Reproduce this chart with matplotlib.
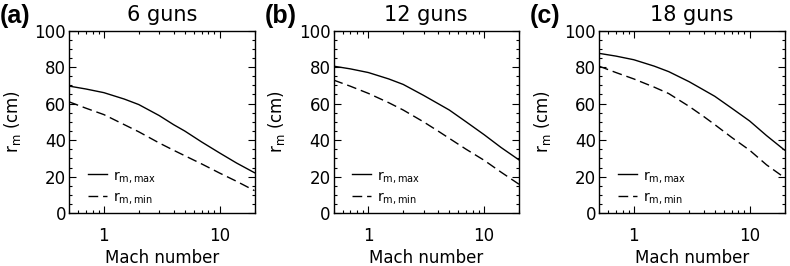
import matplotlib
matplotlib.use("Agg")
import matplotlib.pyplot as plt
from matplotlib.ticker import FixedLocator, MultipleLocator, NullFormatter, FixedFormatter

# ===========================
# DATA
# ===========================
mach = [0.5, 0.7, 1, 1.5, 2, 3, 4, 5, 7, 10, 14, 20]

panel_tags = ["(a)", "(b)", "(c)"]
panel_titles = ["6 guns", "12 guns", "18 guns"]

r_max_6 = [69.6, 68.0, 66.0, 62.5, 59.5, 53.5, 48.5, 45.0, 39.0, 33.0, 27.5, 22.2]
r_min_6 = [61.0, 57.5, 54.0, 48.5, 44.6, 38.5, 34.5, 31.5, 27.0, 22.0, 17.5, 12.4]

r_max_12 = [80.5, 79.0, 77.0, 73.5, 70.5, 64.5, 60.0, 56.5, 50.0, 43.0, 36.0, 29.2]
r_min_12 = [72.9, 69.5, 65.6, 60.5, 56.5, 50.0, 45.0, 41.0, 35.0, 29.0, 22.5, 15.9]

r_max_18 = [87.5, 86.0, 84.0, 80.5, 77.5, 72.0, 67.5, 64.0, 57.5, 50.5, 42.5, 34.6]
r_min_18 = [80.5, 77.0, 73.5, 69.0, 65.5, 58.5, 53.0, 48.5, 41.5, 34.5, 26.5, 19.5]

r_max = [r_max_6, r_max_12, r_max_18]
r_min = [r_min_6, r_min_12, r_min_18]

x_ticks = [1, 10]
x_ticklabels = ["1", "10"]
y_ticks = [0, 20, 40, 60, 80, 100]

# ===========================
# LAYOUT
# ===========================
W, H = 790, 266
AX_LEFT = [69, 333.5, 599]   # px
AX_W, AX_H = 185.5, 182.8
AX_BOTTOM = 213.3            # px from top

plt.rcParams["font.family"] = ["DejaVu Sans"]
plt.rcParams["mathtext.fontset"] = "dejavusans"

fig = plt.figure(figsize=(W / 100, H / 100), dpi=100)

for i in range(3):
    ax = fig.add_axes([AX_LEFT[i] / W, (H - AX_BOTTOM) / H, AX_W / W, AX_H / H])
    ax.plot(mach, r_max[i], color="black", lw=1.0, label=r"r$_{\rm m,max}$")
    ax.plot(mach, r_min[i], color="black", lw=1.0, dashes=(7, 3.5), label=r"r$_{\rm m,min}$")

    ax.set_xscale("log")
    ax.set_xlim(0.5, 20)
    ax.set_ylim(0, 100)

    ax.xaxis.set_major_locator(FixedLocator(x_ticks))
    ax.xaxis.set_major_formatter(FixedFormatter(x_ticklabels))
    ax.xaxis.set_minor_formatter(NullFormatter())
    ax.yaxis.set_major_locator(FixedLocator(y_ticks))
    ax.yaxis.set_minor_locator(MultipleLocator(5))

    ax.tick_params(which="both", direction="in", top=True, right=True, width=0.8)
    ax.tick_params(which="major", length=5, labelsize=12)
    ax.tick_params(which="minor", length=2.5)
    ax.tick_params(axis="x", which="major", pad=10)
    ax.tick_params(axis="y", which="major", pad=2)
    for sp in ax.spines.values():
        sp.set_linewidth(1.0)

    ax.set_xlabel("Mach number", fontsize=12, labelpad=3)
    ax.set_ylabel(r"r$_{\rm m}$ (cm)", fontsize=12)
    ax.yaxis.set_label_coords(-0.25, 0.5)
    ax.set_title(panel_titles[i], fontsize=15, pad=7)

    ax.legend(loc="lower left", bbox_to_anchor=(0.1, 0.04), frameon=False,
              fontsize=10, handlelength=1.4, handletextpad=0.4,
              labelspacing=0.35, borderaxespad=0, borderpad=0)

    fig.text((AX_LEFT[i] - 69) / W, 1 - 4 / H, panel_tags[i], fontsize=18,
             fontweight="bold", family="Liberation Sans", ha="left", va="top")

fig.savefig("out.png", dpi=100)
